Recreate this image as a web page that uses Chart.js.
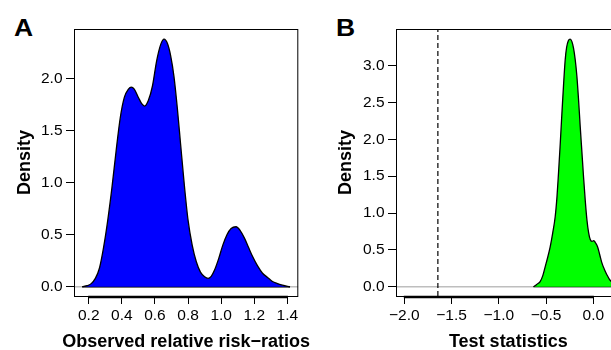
<!DOCTYPE html>
<html lang="en">
<head>
<meta charset="utf-8">
<title>Density plots</title>
<script src="https://cdn.jsdelivr.net/npm/chart.js"></script>
<style>
  html, body { margin: 0; padding: 0; background: #fff; width: 611px; height: 350px; overflow: hidden; position: relative; }
  canvas { position: absolute; top: 0; }
  #chartA { left: 0; }
  #chartB { left: 305px; }
  .tag { position: absolute; font: bold 23px "Liberation Sans", Arial, sans-serif; line-height: 23px; color: #000;
         transform: scaleX(1.15); transform-origin: left top; }
</style>
</head>
<body>
<div class="tag" style="left:14px; top:16.5px;">A</div>
<div class="tag" style="left:336px; top:16.5px;">B</div>
<canvas id="chartA" width="320" height="350"></canvas>
<canvas id="chartB" width="330" height="350"></canvas>

<script>
  // A: kernel density of the observed relative risk-ratios
  const rrX = [0.161, 0.19, 0.215, 0.24, 0.265, 0.29, 0.315, 0.34, 0.365, 0.39, 0.415, 0.44, 0.457, 0.475, 0.5, 0.52,
    0.538, 0.56, 0.585, 0.61, 0.635, 0.655, 0.675, 0.695, 0.715, 0.735, 0.755, 0.775, 0.8, 0.825, 0.85, 0.875, 0.9,
    0.921, 0.94, 0.96, 0.985, 1.01, 1.035, 1.06, 1.09, 1.115, 1.14, 1.165, 1.19, 1.22, 1.25, 1.28, 1.31, 1.34, 1.37,
    1.395, 1.416];
  const rrDensity = [0, 0.01, 0.03, 0.08, 0.18, 0.38, 0.64, 0.95, 1.30, 1.62, 1.82, 1.90, 1.92, 1.90, 1.82, 1.76,
    1.737, 1.79, 1.93, 2.17, 2.33, 2.38, 2.34, 2.22, 2.02, 1.72, 1.37, 1.02, 0.64, 0.40, 0.24, 0.14, 0.095,
    0.08, 0.10, 0.16, 0.27, 0.40, 0.50, 0.56, 0.577, 0.54, 0.47, 0.38, 0.29, 0.20, 0.13, 0.09, 0.05, 0.03, 0.015,
    0.005, 0];
  const rrTicksX = [0.2, 0.4, 0.6, 0.8, 1.0, 1.2, 1.4];
  const rrTicksY = [0, 0.5, 1.0, 1.5, 2.0];

  // B: density of the test statistic, with the one-sided critical value
  const tsX = [-0.633, -0.6, -0.563, -0.535, -0.51, -0.485, -0.457, -0.43, -0.404, -0.385, -0.369, -0.351, -0.333,
    -0.315, -0.298, -0.283, -0.265, -0.245, -0.228, -0.21, -0.192, -0.174, -0.156, -0.139, -0.121, -0.104, -0.086,
    -0.068, -0.05, -0.033, -0.015, 0.005, 0.02, 0.045, 0.068, 0.091, 0.118, 0.144, 0.17, 0.19, 0.215, 0.24, 0.27, 0.3];
  const tsDensity = [0, 0.03, 0.07, 0.15, 0.27, 0.39, 0.54, 0.73, 0.95, 1.22, 1.54, 1.93, 2.35,
    2.75, 3.08, 3.25, 3.34, 3.36, 3.33, 3.24, 3.08, 2.85, 2.52, 2.17, 1.82, 1.49, 1.17,
    0.905, 0.73, 0.64, 0.615, 0.625, 0.6, 0.54, 0.43, 0.32, 0.23, 0.16, 0.1, 0.07, 0.04, 0.02, 0.008, 0];
  const tsTicksX = [-2.0, -1.5, -1.0, -0.5, 0.0];
  const tsTicksY = [0, 0.5, 1.0, 1.5, 2.0, 2.5, 3.0];
  const criticalValue = -1.645;

  const FONT = '"Liberation Sans", Arial, Helvetica, sans-serif';
  const fmt = v => v.toFixed(1).replace('-', '\u2212');
  const toPoints = (xs, ys) => xs.map((x, i) => ({ x: x, y: ys[i] }));

  // R-style frame: thin box, heavier x axis line from first to last tick,
  // and the x title (drawn here so it is not squeezed to the axis width)
  const frame = {
    id: 'frame',
    afterDraw(chart, args, opts) {
      const { ctx, chartArea: a } = chart;
      const x = chart.scales.x;
      ctx.save();
      ctx.strokeStyle = '#000';
      ctx.lineWidth = 1;
      ctx.strokeRect(a.left + 0.5, a.top + 0.5, a.right - a.left - 1, a.bottom - a.top);
      const t = x.ticks;
      ctx.lineWidth = 2.5;
      ctx.beginPath();
      ctx.moveTo(x.getPixelForValue(t[0].value) - 0.5, a.bottom + 1);
      ctx.lineTo(x.getPixelForValue(t[t.length - 1].value) + 0.5, a.bottom + 1);
      ctx.stroke();

      ctx.fillStyle = '#000';
      ctx.font = 'bold 18px ' + FONT;
      ctx.textAlign = 'center';
      ctx.textBaseline = 'alphabetic';
      ctx.fillText(opts.text, (a.left + a.right) / 2, 347);
      ctx.restore();
    }
  };

  function makePanel(id, p) {
    const datasets = [
      {
        data: toPoints(p.xs, p.ys),
        borderColor: '#000', borderWidth: 1.3, backgroundColor: p.fill,
        fill: 'origin', pointRadius: 0, cubicInterpolationMode: 'monotone'
      },
      {
        // base of the density polygon
        data: [{ x: p.xs[0], y: 0 }, { x: p.xs[p.xs.length - 1], y: 0 }],
        borderColor: '#000', borderWidth: 1.3, pointRadius: 0, fill: false
      }
    ];
    if (p.vline !== undefined) {
      datasets.push({
        data: [{ x: p.vline, y: p.yRange[0] }, { x: p.vline, y: p.yRange[1] }],
        borderColor: '#000', borderWidth: 1.2, borderDash: [5, 3], pointRadius: 0, fill: false
      });
    }
    // grey zero line across the plot
    datasets.push({
      data: [{ x: p.xRange[0], y: 0 }, { x: p.xRange[1], y: 0 }],
      borderColor: '#bebebe', borderWidth: 1.5, pointRadius: 0, fill: false
    });

    return new Chart(document.getElementById(id), {
      type: 'line',
      data: { datasets: datasets },
      plugins: [frame],
      options: {
        responsive: false,
        animation: false,
        layout: { padding: { top: 29, right: p.padRight, left: 0, bottom: 0 } },
        plugins: {
          legend: { display: false },
          tooltip: { enabled: false },
          frame: { text: p.xTitle }
        },
        scales: {
          x: {
            type: 'linear', min: p.xRange[0], max: p.xRange[1],
            afterBuildTicks: s => { s.ticks = p.ticksX.map(v => ({ value: v })); },
            afterFit: s => { s.height = 54; },
            grid: { drawOnChartArea: false, drawTicks: true, tickLength: 8, color: '#000', lineWidth: 1 },
            border: { display: false },
            ticks: { autoSkip: false, maxRotation: 0, color: '#000', padding: 2.5,
              font: { family: FONT, size: 15.5 }, callback: v => fmt(v) }
          },
          y: {
            type: 'linear', min: p.yRange[0], max: p.yRange[1],
            afterBuildTicks: s => { s.ticks = p.ticksY.map(v => ({ value: v })); },
            afterFit: s => { s.width = p.yWidth; },
            grid: { drawOnChartArea: false, drawTicks: true, tickLength: 8, color: '#000', lineWidth: 1 },
            border: { display: false },
            ticks: { autoSkip: false, color: '#000', padding: 3.5,
              font: { family: FONT, size: 15.5 }, callback: v => fmt(v) },
            title: { display: true, text: 'Density', color: '#000', padding: { top: p.yTitlePad, bottom: 0 },
              font: { family: FONT, size: 18, weight: 'bold' } }
          }
        }
      }
    });
  }

  makePanel('chartA', {
    xs: rrX, ys: rrDensity, fill: '#0000ff',
    xRange: [0.111, 1.466], yRange: [-0.089, 2.478],
    ticksX: rrTicksX, ticksY: rrTicksY,
    xTitle: 'Observed relative risk\u2212ratios',
    yWidth: 74, yTitlePad: 14.7, padRight: 21.7
  });

  makePanel('chartB', {
    xs: tsX, ys: tsDensity, fill: '#00ff00',
    xRange: [-2.088, 0.288], yRange: [-0.126, 3.498],
    ticksX: tsTicksX, ticksY: tsTicksY, vline: criticalValue,
    xTitle: 'Test statistics',
    yWidth: 91, yTitlePad: 30.2, padRight: 14.4
  });
</script>
</body>
</html>
